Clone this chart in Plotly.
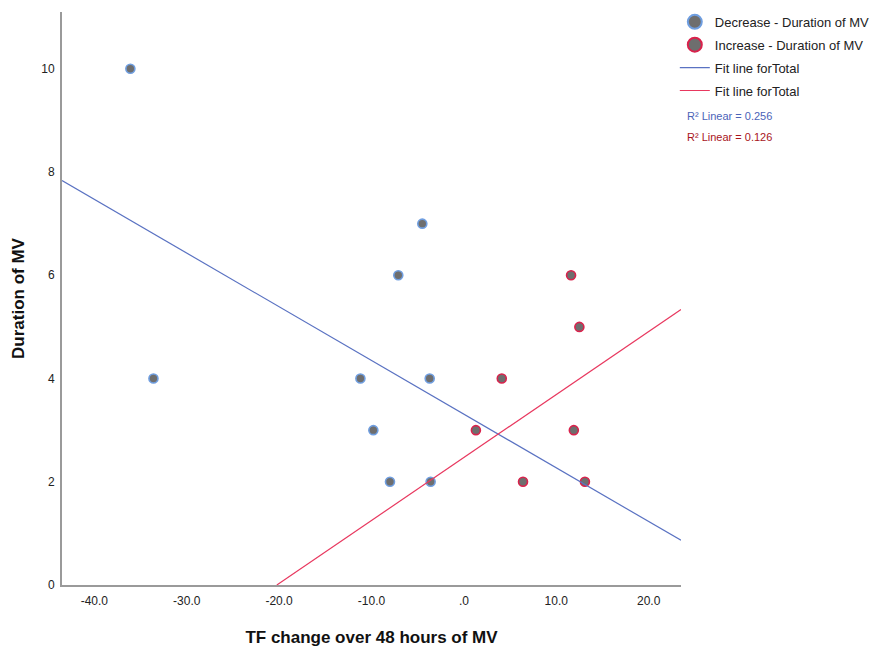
import plotly.graph_objects as go

# TF change (x) and duration of MV (y), split by direction of change
dec_x = [-36.1, -33.6, -4.5, -7.1, -11.2, -3.7, -9.8, -8.0, -3.6]
dec_y = [10, 4, 7, 6, 4, 4, 3, 2, 2]
inc_x = [1.3, 4.1, 6.4, 11.6, 12.5, 11.9, 13.1]
inc_y = [3, 4, 2, 6, 5, 3, 2]

# Linear fit coefficients (intercept, slope) and R² for each group
fit_dec = [3.31, -0.104]
fit_inc = [2.47, 0.122]
r2_dec = 0.256
r2_inc = 0.126

x_range = [-43.5, 23.5]
y_range = [0, 11.1]
x_ticks = [-40, -30, -20, -10, 0, 10, 20]
x_tick_text = ["-40.0", "-30.0", "-20.0", "-10.0", ".0", "10.0", "20.0"]
y_ticks = [0, 2, 4, 6, 8, 10]

FONT = "Liberation Sans, Arial, sans-serif"
BLUE_EDGE = "#6f9ee0"
RED_EDGE = "#d9224c"
FILL = "#6e6e6e"
BLUE_LINE = "#5a72c2"
RED_LINE = "#e8385f"

fig = go.Figure()

# data markers (legend entries are added separately with larger symbols)
fig.add_trace(go.Scatter(
    x=dec_x, y=dec_y, mode="markers", showlegend=False,
    marker=dict(size=9, color=FILL, line=dict(color=BLUE_EDGE, width=1.6)),
))
fig.add_trace(go.Scatter(
    x=inc_x, y=inc_y, mode="markers", showlegend=False,
    marker=dict(size=9, color=FILL, line=dict(color=RED_EDGE, width=1.6)),
))


def fit_line(coef):
    a, b = coef
    xs = list(x_range)
    ys = [a + b * v for v in xs]
    # stop the line where it meets y = 0
    for i in range(2):
        if ys[i] < 0:
            xs[i] = -a / b
            ys[i] = 0
    return xs, ys


xs, ys = fit_line(fit_dec)
fig.add_trace(go.Scatter(
    x=xs, y=ys, mode="lines", showlegend=False,
    line=dict(color=BLUE_LINE, width=1.2),
))
xs, ys = fit_line(fit_inc)
fig.add_trace(go.Scatter(
    x=xs, y=ys, mode="lines", showlegend=False,
    line=dict(color=RED_LINE, width=1.2),
))

# legend entries
fig.add_trace(go.Scatter(
    x=[None], y=[None], mode="markers", name="Decrease - Duration of MV",
    legendgroup="a",
    marker=dict(size=14, color=FILL, line=dict(color=BLUE_EDGE, width=2)),
))
fig.add_trace(go.Scatter(
    x=[None], y=[None], mode="markers", name="Increase - Duration of MV",
    legendgroup="b",
    marker=dict(size=14, color=FILL, line=dict(color=RED_EDGE, width=2)),
))
fig.add_trace(go.Scatter(
    x=[None], y=[None], mode="lines", name="Fit line forTotal",
    legendgroup="c", line=dict(color=BLUE_LINE, width=1.2),
))
fig.add_trace(go.Scatter(
    x=[None], y=[None], mode="lines", name="Fit line forTotal",
    legendgroup="d", line=dict(color=RED_LINE, width=1.2),
))

fig.add_annotation(
    xref="paper", yref="paper", x=1.006, y=(649 - 64 - 116) / 573,
    xanchor="left", yanchor="middle", showarrow=False,
    text=f"R² Linear = {r2_dec:.3f}",
    font=dict(family=FONT, size=11, color="#4b63b8"),
)
fig.add_annotation(
    xref="paper", yref="paper", x=1.006, y=(649 - 64 - 137) / 573,
    xanchor="left", yanchor="middle", showarrow=False,
    text=f"R² Linear = {r2_inc:.3f}",
    font=dict(family=FONT, size=11, color="#a8141c"),
)

fig.update_layout(
    width=879, height=649,
    margin=dict(l=62, r=198, t=12, b=64, autoexpand=False),
    paper_bgcolor="white", plot_bgcolor="white",
    font=dict(family=FONT, size=11, color="#222222"),
    showlegend=True,
    legend=dict(
        x=0.990, y=1.009, xref="paper", xanchor="left", yanchor="top",
        font=dict(family=FONT, size=13, color="#222222"),
        tracegroupgap=3,
        bgcolor="rgba(0,0,0,0)",
    ),
    xaxis=dict(
        range=x_range, tickvals=x_ticks, ticktext=x_tick_text,
        showgrid=False, zeroline=False, showline=True,
        linecolor="#9a9a9a", linewidth=2,
        ticks="outside", ticklen=4, tickcolor="rgba(0,0,0,0)",
        tickfont=dict(family=FONT, size=12, color="#222222"),
        title=dict(text="<b>TF change over 48 hours of MV</b>",
                   font=dict(family=FONT, size=17, color="#111111"),
                   standoff=24),
    ),
    yaxis=dict(
        range=y_range, tickvals=y_ticks,
        showgrid=False, zeroline=False, showline=True,
        linecolor="#9a9a9a", linewidth=2,
        ticks="outside", ticklen=3, tickcolor="rgba(0,0,0,0)",
        tickfont=dict(family=FONT, size=12, color="#222222"),
        title=dict(text="<b>Duration of MV</b>",
                   font=dict(family=FONT, size=17, color="#111111"),
                   standoff=12),
    ),
)

fig.write_html("out.html")
